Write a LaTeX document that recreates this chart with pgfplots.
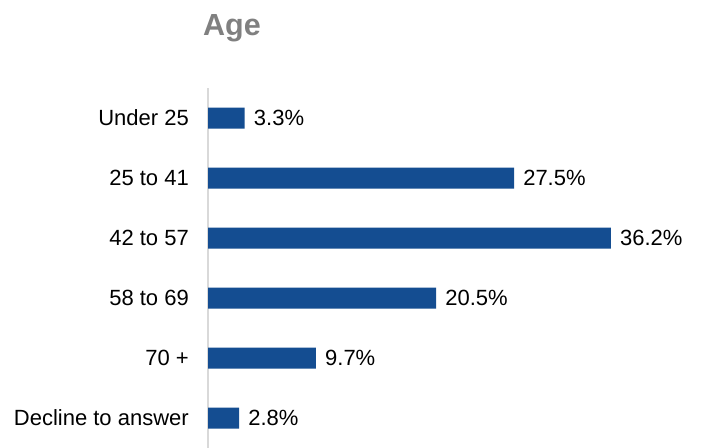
\documentclass[border=0pt]{standalone}
\usepackage{fontspec}
\setmainfont{Liberation Sans}
\usepackage{pgfplots}
\pgfplotsset{compat=1.18}
\definecolor{barblue}{RGB}{20,77,145}
\definecolor{titlegray}{RGB}{128,128,128}
\definecolor{axisgray}{RGB}{217,217,217}
\begin{document}
\begin{tikzpicture}
\useasboundingbox (0,0) rectangle (701bp,448bp);
\begin{axis}[
  at={(208bp,0bp)}, anchor=south west,
  scale only axis, width=487.5bp, height=360bp,
  xmin=0, xmax=43.8, ymin=-0.5, ymax=5.5, y dir=reverse,
  xbar, bar width=21bp, clip=false,
  axis x line=none, axis y line=left,
  y axis line style={-, draw=axisgray, line width=1.5bp},
  /pgf/number format/assume math mode=true,
  ytick={0,...,5},
  yticklabels={Under 25, 25 to 41, 42 to 57, 58 to 69, 70 +, Decline to answer},
  major tick length=0pt,
  ytick style={draw=none},
  yticklabel style={font=\fontsize{22bp}{26bp}\selectfont, inner sep=0pt, anchor=east, xshift=-19bp},
  point meta=x,
  nodes near coords={\pgfmathprintnumber[fixed,fixed zerofill,precision=1]{\pgfplotspointmeta}\%},
  nodes near coords style={anchor=west, inner sep=0pt, xshift=9bp, font=\fontsize{22bp}{26bp}\selectfont, text=black},
]
\addplot[draw=none, fill=barblue] coordinates {(3.3,0) (27.5,1) (36.2,2) (20.5,3) (9.7,4) (2.8,5)};
\end{axis}
\node[anchor=base west, font=\fontsize{30.5bp}{36bp}\selectfont\bfseries, text=titlegray, inner sep=0pt] at (203bp,412bp) {Age};
\end{tikzpicture}
\end{document}
